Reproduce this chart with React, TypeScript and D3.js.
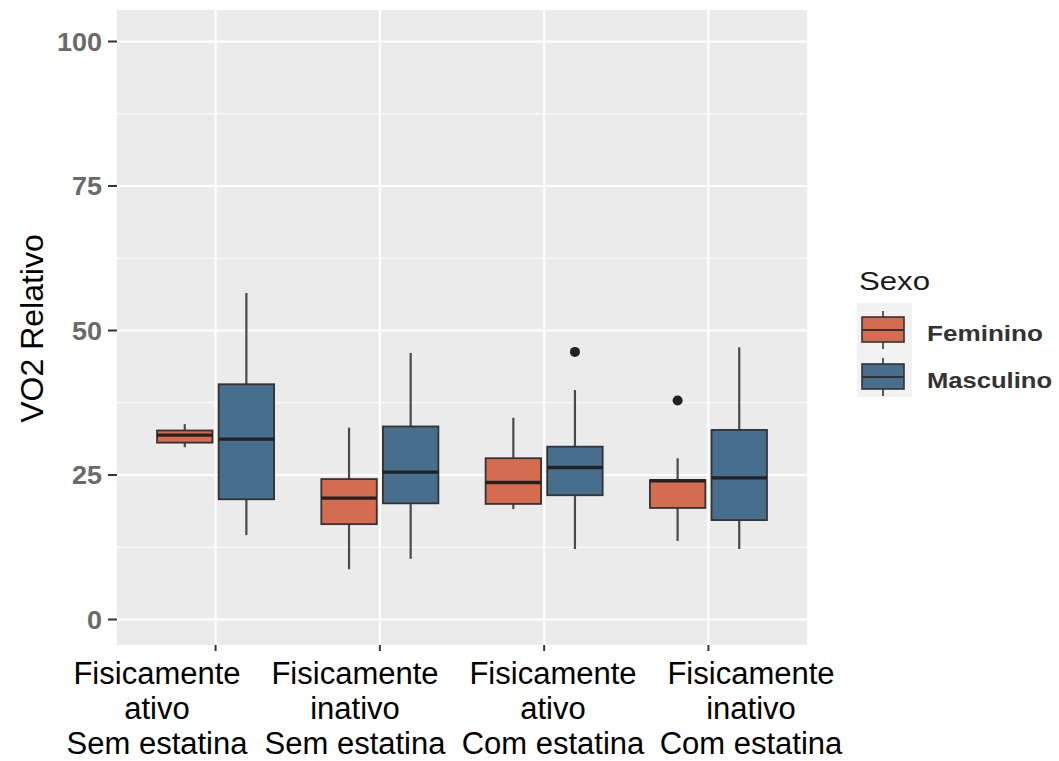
import React from 'react';
import * as d3 from 'd3';

const categories = [
  ['Fisicamente', 'ativo', 'Sem estatina'],
  ['Fisicamente', 'inativo', 'Sem estatina'],
  ['Fisicamente', 'ativo', 'Com estatina'],
  ['Fisicamente', 'inativo', 'Com estatina'],
];
const groups = ['Feminino', 'Masculino'];
const groupColors = ['#D56C50', '#486E8D'];

// five-number summaries per category
const femLower = [29.8, 8.7, 19.1, 13.6];
const femQ1 = [30.6, 16.5, 20.0, 19.3];
const femMedian = [31.9, 21.0, 23.7, 24.0];
const femQ3 = [32.7, 24.3, 27.9, 24.1];
const femUpper = [33.8, 33.2, 34.9, 27.9];
const femOutliers = [[], [], [], [37.9]];

const mascLower = [14.6, 10.5, 12.2, 12.2];
const mascQ1 = [20.8, 20.1, 21.5, 17.2];
const mascMedian = [31.2, 25.5, 26.3, 24.5];
const mascQ3 = [40.7, 33.4, 29.9, 32.8];
const mascUpper = [56.5, 46.1, 39.7, 47.1];
const mascOutliers = [[], [], [46.3], []];

const yTicks = [0, 25, 50, 75, 100];
const yMinor = [12.5, 37.5, 62.5, 87.5];

const FONT = '"Liberation Sans", Arial, Helvetica, sans-serif';

const W = 1059;
const H = 761;
const panel = { left: 117, right: 807, top: 10, bottom: 645 };

export default function App() {
  const x = d3.scaleLinear().domain([0.4, categories.length + 0.6]).range([panel.left, panel.right]);
  const y = d3.scaleLinear().domain([0, 100]).range([619.5, 41.5]);
  const labelX = d3.scalePoint<number>().domain(d3.range(categories.length)).range([157, 751]);

  const boxW = 0.3375;
  const dodge = d3.scaleOrdinal<string, number>().domain(groups).range([-0.1875, 0.1875]);

  const series = [
    { name: groups[0], lower: femLower, q1: femQ1, med: femMedian, q3: femQ3, upper: femUpper, out: femOutliers },
    { name: groups[1], lower: mascLower, q1: mascQ1, med: mascMedian, q3: mascQ3, upper: mascUpper, out: mascOutliers },
  ];

  const halfW = (x(1 + boxW) - x(1)) / 2;

  return (
    <svg width={W} height={H} style={{ position: 'absolute', left: 0, top: 0, background: '#fff' }} fontFamily={FONT}>
      <rect x={0} y={0} width={W} height={H} fill="#fff" />
      <rect x={panel.left} y={panel.top} width={panel.right - panel.left} height={panel.bottom - panel.top} fill="#EBEBEB" />
      {yMinor.map((t) => (
        <line key={'mn' + t} x1={panel.left} x2={panel.right} y1={y(t)} y2={y(t)} stroke="#fff" strokeWidth={1.1} />
      ))}
      {yTicks.map((t) => (
        <line key={'mj' + t} x1={panel.left} x2={panel.right} y1={y(t)} y2={y(t)} stroke="#fff" strokeWidth={2.2} />
      ))}
      {categories.map((c, i) => (
        <line key={'vx' + i} x1={x(i + 1)} x2={x(i + 1)} y1={panel.top} y2={panel.bottom} stroke="#fff" strokeWidth={2.2} />
      ))}

      {series.map((s, gi) =>
        categories.map((c, i) => {
          const cx = x(i + 1 + dodge(s.name));
          return (
            <g key={s.name + i}>
              <line x1={cx} x2={cx} y1={y(s.upper[i])} y2={y(s.q3[i])} stroke="#4a4a4a" strokeWidth={2.2} />
              <line x1={cx} x2={cx} y1={y(s.q1[i])} y2={y(s.lower[i])} stroke="#4a4a4a" strokeWidth={2.2} />
              <rect
                x={cx - halfW}
                y={y(s.q3[i])}
                width={halfW * 2}
                height={y(s.q1[i]) - y(s.q3[i])}
                fill={groupColors[gi]}
                stroke="#333"
                strokeWidth={1.8}
              />
              <line x1={cx - halfW} x2={cx + halfW} y1={y(s.med[i])} y2={y(s.med[i])} stroke="#222" strokeWidth={3.4} />
              {s.out[i].map((o, k) => (
                <circle key={k} cx={cx} cy={y(o)} r={5} fill="#222" />
              ))}
            </g>
          );
        })
      )}

      {/* y axis */}
      {yTicks.map((t) => (
        <g key={'yt' + t}>
          <line x1={108} x2={panel.left} y1={y(t)} y2={y(t)} stroke="#333" strokeWidth={2} />
          <text
            x={102}
            y={y(t) + 9}
            textAnchor="end"
            fontSize={25}
            fontWeight="bold"
            fill="#6A6A6A"
            textLength={String(t).length * 15}
            lengthAdjust="spacingAndGlyphs"
          >
            {t}
          </text>
        </g>
      ))}
      <text transform={`translate(43,${(233 + 424) / 2}) rotate(-90)`} textAnchor="middle" fontSize={32} fill="#000">
        VO2 Relativo
      </text>

      {/* x axis */}
      {categories.map((c, i) => (
        <g key={'xt' + i}>
          <line x1={x(i + 1)} x2={x(i + 1)} y1={panel.bottom} y2={panel.bottom + 6} stroke="#333" strokeWidth={2} />
          {c.map((line, li) => (
            <text key={li} x={labelX(i)} y={684 + li * 35} textAnchor="middle" fontSize={31} fill="#000">
              {line}
            </text>
          ))}
        </g>
      ))}

      {/* legend */}
      <text x={859} y={290} fontSize={26} fill="#1A1A1A" textLength={71} lengthAdjust="spacingAndGlyphs">
        Sexo
      </text>
      {groups.map((g, gi) => {
        const top = 303 + gi * 47;
        const cx = 883;
        return (
          <g key={'lg' + g}>
            <rect x={857} y={top} width={55} height={47} fill="#F2F2F2" />
            <line x1={cx} x2={cx} y1={top + 8} y2={top + 46} stroke="#333" strokeWidth={1.6} />
            <rect x={862} y={top + 14} width={42} height={25} fill={groupColors[gi]} stroke="#333" strokeWidth={1.6} />
            <line x1={862} x2={904} y1={top + 27} y2={top + 27} stroke="#333" strokeWidth={1.8} />
            <text
              x={927}
              y={top + 38}
              fontSize={22}
              fontWeight="bold"
              fill="#333"
              textLength={gi === 0 ? 116 : 125}
              lengthAdjust="spacingAndGlyphs"
            >
              {g}
            </text>
          </g>
        );
      })}
    </svg>
  );
}
